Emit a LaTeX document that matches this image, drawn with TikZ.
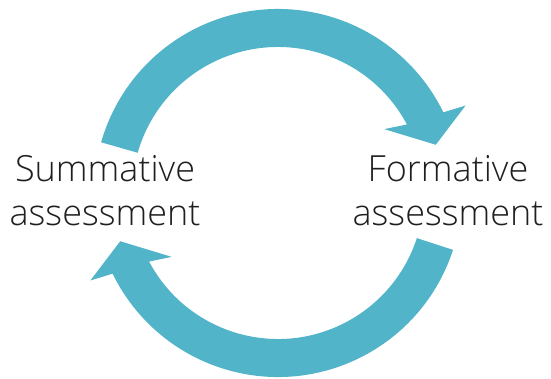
\documentclass[tikz,border=0pt]{standalone}
\usepackage{fontspec}
\setmainfont{Open Sans Light}
\usepackage{tikz}
\definecolor{cycleteal}{RGB}{81,180,200}
\newcommand{\mytealfill}{cycleteal}

\begin{document}
\begin{tikzpicture}[x=1pt,y=1pt]
\useasboundingbox (-278,-185) rectangle (273,193);
\begin{scope}
% two curved arrows, the second one turned half round
\foreach \rot/\start in {0/164, 180/162}{
 \draw[draw = none, fill = \mytealfill, rotate=\rot]
   (\start:184) arc[start angle=\start, end angle=26, radius=184]
   -- (25:207) -- (17:165) -- (31:124) -- (28:146)
   arc[start angle=28, end angle=\start, radius=146] -- cycle;
}
\node[align=center, text=black!88, font=\fontsize{36}{44}\selectfont] (summ) at (-173,2.5) {Summative\\assessment};
\node[align=center, text=black!88, font=\fontsize{36}{44}\selectfont] (form) at (170,2.5) {Formative\\assessment};
\end{scope}
\end{tikzpicture}
\end{document}
